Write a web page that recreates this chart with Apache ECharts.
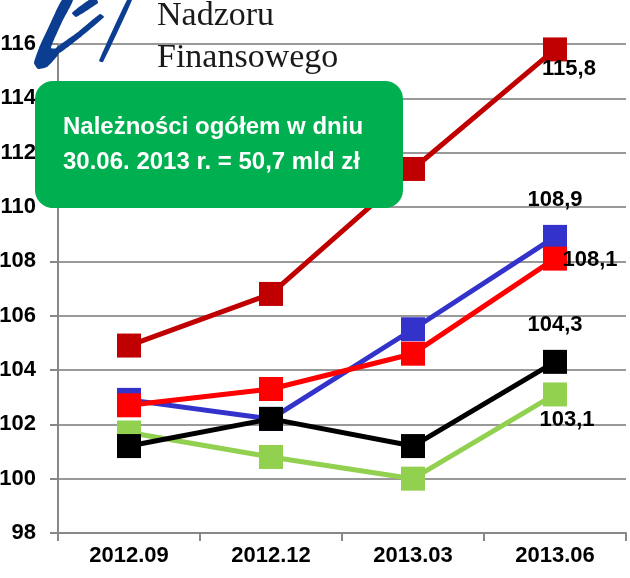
<!DOCTYPE html>
<html>
<head>
<meta charset="utf-8">
<script src="https://cdn.jsdelivr.net/npm/echarts@6/dist/echarts.min.js"></script>
<style>
  html, body { margin: 0; padding: 0; background: #fff; }
  #chart { width: 630px; height: 578px; }
</style>
</head>
<body>
<div id="chart"></div>
<script>
// dane do wykresu
var categories = ['2012.09', '2012.12', '2013.03', '2013.06'];
var seriesDarkRed = [104.9, 106.8, 111.4, 115.8];
var seriesBlue = [102.9, 102.2, 105.5, 108.9];
var seriesRed = [102.7, 103.3, 104.6, 108.1];
var seriesGreen = [101.7, 100.8, 100.0, 103.1];
var seriesBlack = [101.2, 102.2, 101.2, 104.3];
var yTicks = { min: 98, max: 116, interval: 2 };
var boxLines = ['Należności ogółem w dniu', '30.06. 2013 r. = 50,7 mld zł'];

var fontFam = '"Liberation Sans", Arial, sans-serif';
var serifFam = '"Liberation Serif", "DejaVu Serif", serif';
var logoBlue = '#0B3D91';

// etykieta tylko przy ostatnim punkcie
function lastLabel(values, offset) {
	return values.map(function (v, i) {
		if (i !== values.length - 1) return v;
		return {
			value: v,
			label: {
				show: true,
				position: 'inside',
				offset: offset,
				formatter: function (p) { return String(p.value).replace('.', ','); },
				color: '#000',
				fontFamily: fontFam,
				fontWeight: 'bold',
				fontSize: 22
			}
		};
	});
}

function lineSeries(name, color, data) {
	return {
		name: name,
		type: 'line',
		data: data,
		symbol: 'rect',
		symbolSize: 24,
		lineStyle: { color: color, width: 5 },
		itemStyle: { color: color },
		label: { show: false }
	};
}

function logoPart(points) {
	return { type: 'polygon', z: 100, shape: { points: points, smooth: 0.15 }, style: { fill: logoBlue } };
}

var myChart = echarts.init(document.getElementById('chart'));
var option = {
	animation: false,
	grid: { left: 58, right: 4, top: 44, bottom: 45, outerBoundsMode: 'none' },
	xAxis: {
		type: 'category',
		data: categories,
		axisLine: { lineStyle: { color: '#888', width: 2 } },
		axisTick: { show: true, length: 8, lineStyle: { color: '#888', width: 2 } },
		axisLabel: { color: '#000', fontFamily: fontFam, fontWeight: 'bold', fontSize: 22, margin: 12 }
	},
	yAxis: {
		type: 'value',
		min: yTicks.min,
		max: yTicks.max,
		interval: yTicks.interval,
		axisLine: { show: true, lineStyle: { color: '#888', width: 2 } },
		axisTick: { show: true, length: 8, lineStyle: { color: '#888', width: 2 } },
		splitLine: { lineStyle: { color: '#999', width: 2 } },
		axisLabel: { color: '#000', fontFamily: fontFam, fontWeight: 'bold', fontSize: 22, margin: 22 }
	},
	series: [
		lineSeries('a', '#C00000', lastLabel(seriesDarkRed, [14, 20])),
		lineSeries('b', '#3333CC', lastLabel(seriesBlue, [0, -37])),
		lineSeries('c', '#FF0000', lastLabel(seriesRed, [35, 1])),
		lineSeries('d', '#92D050', lastLabel(seriesGreen, [12, 25])),
		lineSeries('e', '#000000', lastLabel(seriesBlack, [0, -37]))
	],
	graphic: [
		// logo
		logoPart([[62, 0], [73, 0], [62, 22], [51, 48], [58, 49], [58, 55], [47, 67], [38, 69], [34, 63], [39, 48], [51, 22]]),
		logoPart([[72, 13], [89, 0], [97, 0], [98, 3], [76, 17]]),
		logoPart([[100, 14], [104, 17], [82, 36], [58, 54], [55, 49], [78, 32]]),
		logoPart([[127, 0], [132, 0], [103, 62], [99, 61]]),
		{ type: 'text', z: 100, left: 157, top: -1, style: { text: 'Nadzoru', fontFamily: serifFam, fontSize: 34, fill: '#1a1a1a' } },
		{ type: 'text', z: 100, left: 157, top: 41, style: { text: 'Finansowego', fontFamily: serifFam, fontSize: 34, fill: '#1a1a1a' } },
		// zielona ramka
		{ type: 'rect', z: 100, shape: { x: 35, y: 81, width: 368, height: 127, r: 18 }, style: { fill: '#00B050' } },
		{ type: 'text', z: 101, left: 63, top: 115, style: { text: boxLines[0], fontFamily: fontFam, fontWeight: 'bold', fontSize: 24, fill: '#fff' } },
		{ type: 'text', z: 101, left: 63, top: 150, style: { text: boxLines[1], fontFamily: fontFam, fontWeight: 'bold', fontSize: 24, fill: '#fff' } }
	]
};
myChart.setOption(option);
</script>
</body>
</html>
